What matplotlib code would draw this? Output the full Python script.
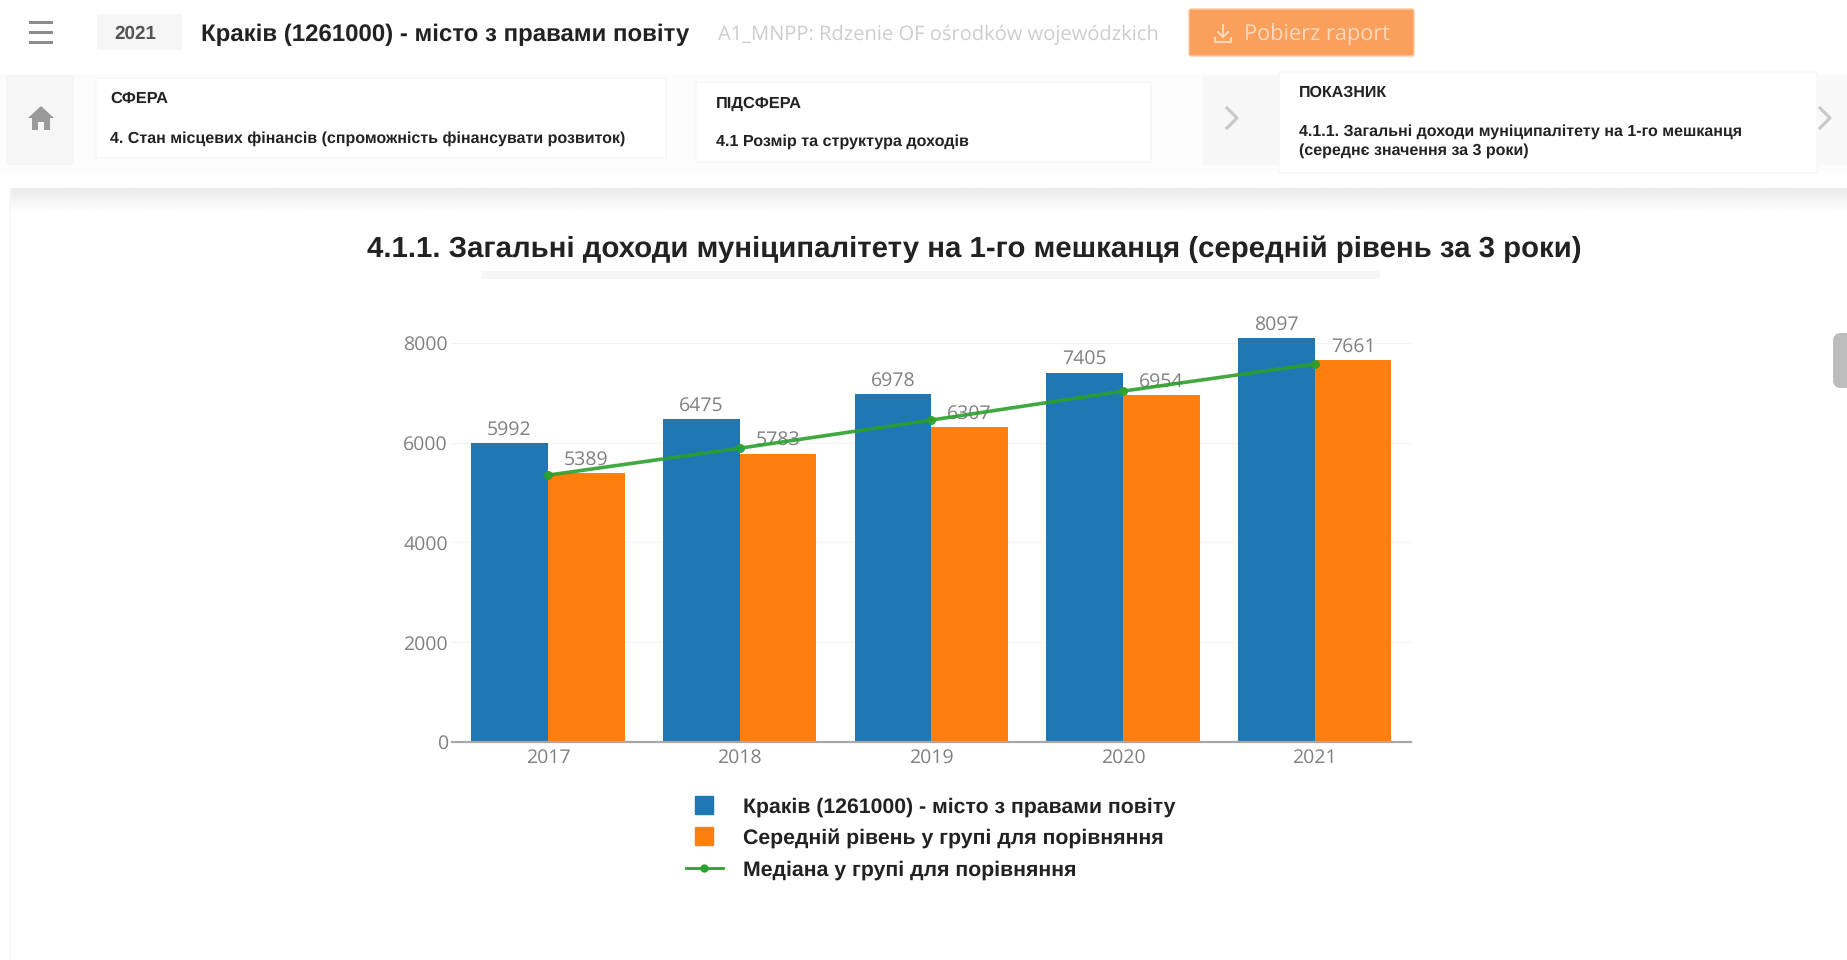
import numpy as np
import matplotlib
matplotlib.use('Agg')
import matplotlib.pyplot as plt
from matplotlib.lines import Line2D
from matplotlib.patches import Rectangle, Polygon, FancyBboxPatch

plt.rcParams['text.hinting'] = 'no_hinting'

W, H = 1847, 960

years = ['2017', '2018', '2019', '2020', '2021']
krakow = [5992, 6475, 6978, 7405, 8097]
group_mean = [5389, 5783, 6307, 6954, 7661]
group_median = [5350, 5890, 6455, 7035, 7580]
yticks = [0, 2000, 4000, 6000, 8000]

name_label = 'Краків (1261000) - місто з правами повіту'
mean_label = 'Середній рівень у групі для порівняння'
median_label = 'Медіана у групі для порівняння'
chart_title = '4.1.1. Загальні доходи муніципалітету на 1-го мешканця (середній рівень за 3 роки)'

BLUE = '#1f77b4'
ORANGE = '#ff7f0e'
GREEN = '#2ca02c'
GREY_TXT = '#808080'
DARK = '#222222'

fig = plt.figure(figsize=(W / 100, H / 100), dpi=100, facecolor='white')
bg = fig.add_axes([0, 0, 1, 1])
bg.set_xlim(0, W)
bg.set_ylim(H, 0)
bg.axis('off')


def box(x0, y0, x1, y1, color, z=1):
    bg.add_patch(Rectangle((x0, y0), x1 - x0, y1 - y0, fc=color, ec='none', zorder=z))


def fit_text(x, y, s, width, family='Liberation Sans', weight='bold', color=DARK, size=12):
    # scale the font so the string takes the same width as in the picture
    t = bg.text(x, y, s, family=family, weight=weight, color=color, size=size, va='center', zorder=5)
    w = t.get_window_extent(fig.canvas.get_renderer()).width
    t.set_fontsize(size * width / w)
    return t


# top bar
for y in (22, 32, 42):
    box(29, y - 1.5, 53, y + 1.5, '#8c8c8c')
box(97, 14, 182, 50, '#f6f6f6')
fit_text(114, 34, '2021', 42, color='#555555')
fit_text(201, 35, name_label, 487)
fit_text(718, 35, 'A1_MNPP: Rdzenie OF ośrodków wojewódzkich', 440, family='Open Sans',
         weight='normal', color='#cdcdcd')
bg.add_patch(FancyBboxPatch((1189, 9), 225, 47, boxstyle='round,pad=0,rounding_size=2',
                            fc='#fa9f5c', ec='#fcc9a4', lw=1, zorder=2))
fit_text(1244, 34, 'Pobierz raport', 146, family='Open Sans', weight='normal', color='#fcd9bd')
# download icon
bg.plot([1223, 1223], [25, 37], color='#fcd9bd', lw=1.5, zorder=5)
bg.plot([1218, 1223, 1228], [32, 37, 32], color='#fcd9bd', lw=1.5, zorder=5)
bg.plot([1215, 1215, 1231, 1231], [38, 42, 42, 38], color='#fcd9bd', lw=1.5, zorder=5)

# breadcrumb row
box(0, 74, W, 172, '#fcfcfc', 0)
box(6, 75, 74, 165, '#f6f6f6')
bg.add_patch(Polygon([(28, 118), (41, 106), (54, 118), (50, 118), (50, 130), (44, 130), (44, 122),
                      (38, 122), (38, 130), (32, 130), (32, 118)], fc='#9a9a9a', ec='none', zorder=3))
box(95, 77, 667, 159, '#f8f8f8')
box(97, 79, 665, 157, 'white', 2)
box(695, 81, 1152, 163, '#f8f8f8')
box(697, 83, 1150, 161, 'white', 2)
box(1203, 76, 1280, 165, '#f7f7f7')
box(1278, 71, 1818, 174, '#f8f8f8')
box(1280, 73, 1816, 172, 'white', 2)
box(1818, 76, W, 165, '#f8f8f8')
for cx in (1232, 1825):
    bg.plot([cx - 5, cx + 5, cx - 5], [108, 118, 128], color='#c8c8c8', lw=2.2, zorder=4)

fit_text(110, 99, 'СФЕРА', 58)
fit_text(110, 139, '4. Стан місцевих фінансів (спроможність фінансувати розвиток)', 513)
fit_text(716, 104, 'ПІДСФЕРА', 86)
fit_text(716, 142, '4.1 Розмір та структура доходів', 253)
fit_text(1299, 93, 'ПОКАЗНИК', 88)
fit_text(1299, 132, '4.1.1. Загальні доходи муніципалітету на 1-го мешканця', 443)
fit_text(1299, 151, '(середнє значення за 3 роки)', 229)

# shadow band under the header, frame line, scroll handle
grad = np.linspace(0.92, 0.985, 20).reshape(-1, 1)
bg.imshow(grad, extent=(9, W, 209, 188), cmap='gray', vmin=0, vmax=1, aspect='auto', zorder=1)
bg.set_xlim(0, W)
bg.set_ylim(H, 0)
box(9, 188, 11, H, '#f7f7f7')
bg.add_patch(FancyBboxPatch((1833, 333), 30, 55, boxstyle='round,pad=0,rounding_size=8',
                            fc='#bdbdbd', ec='none', zorder=3, clip_on=True))

fit_text(367, 249, chart_title, 1212)
# leftover of the hidden title under the real one
box(482, 271, 1380, 279, '#f6f6f6')

# chart
ax = fig.add_axes([452 / W, (H - 742) / H, 958.6 / W, 425 / H])
ax.patch.set_alpha(0)
x = np.arange(len(years))
b1 = ax.bar(x - 0.2, krakow, 0.4, color=BLUE, zorder=2)
b2 = ax.bar(x + 0.2, group_mean, 0.4, color=ORANGE, zorder=2)
ax.bar_label(b1, padding=2.8, color=GREY_TXT, fontsize=14, family='Open Sans', zorder=3)
ax.bar_label(b2, padding=2.8, color=GREY_TXT, fontsize=14, family='Open Sans', zorder=3)
ax.plot(x, group_median, color=GREEN, lw=2.6, marker='o', ms=5.5, zorder=4, alpha=0.9)

ax.set_xlim(-0.5, 4.5)
ax.set_ylim(0, 8521)
ax.set_xticks(x, years)
ax.set_yticks(yticks)
ax.tick_params(length=0, labelsize=14, labelcolor=GREY_TXT)
ax.tick_params(axis='x', pad=4.5)
ax.tick_params(axis='y', pad=3)
for lab in ax.get_xticklabels() + ax.get_yticklabels():
    lab.set_family('Open Sans')
ax.grid(axis='y', color='#f3f3f3', lw=0.8, zorder=0)
for side in ('top', 'right', 'left'):
    ax.spines[side].set_visible(False)
ax.spines['bottom'].set_color('#a8a8a8')
ax.spines['bottom'].set_linewidth(1.6)
ax.spines['bottom'].set_zorder(5)

handles = [
    Line2D([], [], ls='none', marker='s', ms=13.5, color=BLUE),
    Line2D([], [], ls='none', marker='s', ms=13.5, color=ORANGE),
    Line2D([], [], color=GREEN, lw=2, marker='o', ms=5),
]
leg = fig.legend(handles, [name_label, mean_label, median_label], loc='upper left',
                 bbox_to_anchor=(686 / W, 1 - 797 / H), frameon=False, borderpad=0, borderaxespad=0,
                 handlelength=1.74, handletextpad=0.93, labelspacing=0.55,
                 prop={'family': 'Liberation Sans', 'weight': 'bold', 'size': 15.3})
for t in leg.get_texts():
    t.set_color(DARK)

fig.savefig('out.png', dpi=100)
